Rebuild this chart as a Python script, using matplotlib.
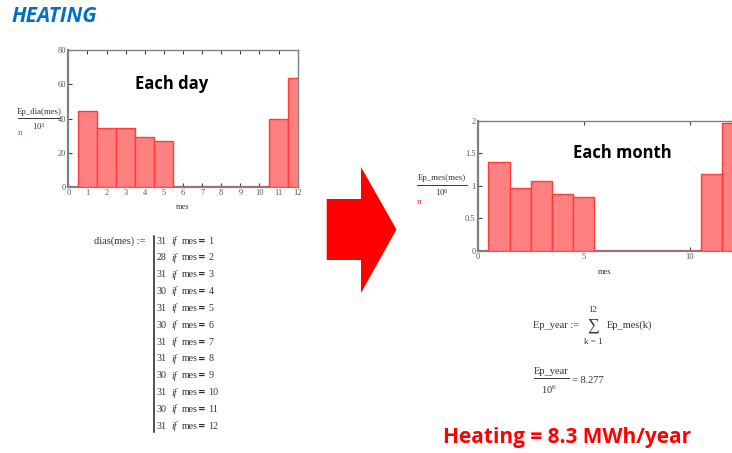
import matplotlib
matplotlib.use("Agg")
import matplotlib.pyplot as plt
from matplotlib.patches import Polygon
from matplotlib.lines import Line2D

plt.rcParams["mathtext.fontset"] = "custom"
plt.rcParams["mathtext.rm"] = "Liberation Serif"
plt.rcParams["mathtext.it"] = "Liberation Serif:italic"

# ---- data ----
months = list(range(1, 13))
days_in_month = [31, 28, 31, 30, 31, 30, 31, 31, 30, 31, 30, 31]
# daily heating energy per month, in 10^3 Wh
ep_dia_k = [44.3, 34.6, 34.6, 29.2, 26.9, 0, 0, 0, 0, 0, 39.5, 63.45]
day_yticks = [0, 20, 40, 60, 80]
month_yticks = [0, 0.5, 1, 1.5, 2]

# monthly energy in 10^6 Wh
ep_mes_M = [d * 1e3 * n / 1e6 for d, n in zip(ep_dia_k, days_in_month)]
ep_year_M = sum(ep_mes_M)

W, H = 732, 453
fig = plt.figure(figsize=(W / 100, H / 100), dpi=100)
fig.patch.set_facecolor("white")


def fx(x):
    return x / W


def fy(y):
    return 1 - y / H


SERIF = ["Liberation Serif", "DejaVu Serif"]
BAR_FACE = "#ff8080"
BAR_EDGE = "#ff3c3c"
SPINE = "#808080"
TICK_TXT = "#555555"


def draw_bars(ax, values, xticks, yticks, xlim, ylim):
    ax.bar(months, values, width=1.0, color=BAR_FACE,
           edgecolor=BAR_EDGE, linewidth=1.0, zorder=3)
    ax.set_xlim(*xlim)
    ax.set_ylim(*ylim)
    ax.set_xticks(xticks)
    ax.set_yticks(yticks)
    ax.set_xticklabels([f"{t:g}" for t in xticks])
    ax.set_yticklabels([f"{t:g}" for t in yticks])
    ax.tick_params(direction="in", length=3, width=0.8, color="#404040",
                   labelsize=6, labelcolor=TICK_TXT, pad=1.5,
                   top=True, right=False)
    for lbl in ax.get_xticklabels() + ax.get_yticklabels():
        lbl.set_family(SERIF)
    for side in ("left", "bottom"):
        ax.spines[side].set_linewidth(1.6)
        ax.spines[side].set_color(SPINE)
    for side in ("top", "right"):
        ax.spines[side].set_linewidth(1.0)
        ax.spines[side].set_color(SPINE)


# ---- daily chart ----
ax1 = fig.add_axes([fx(68.3), fy(187), fx(297.7 - 68.3), (187 - 50) / H])
draw_bars(ax1, ep_dia_k, list(range(0, 13)), day_yticks, (0, 12), (0, 80))
fig.text(fx(172), fy(84), "Each day", ha="center", va="center",
         fontsize=12, fontweight="bold", family="Open Sans", color="black")

# ---- monthly chart (extends past the right edge) ----
unit = (690 - 477.7) / 10
ax2 = fig.add_axes([fx(477.7), fy(251), fx(12 * unit), (251 - 120.7) / H])
draw_bars(ax2, ep_mes_M, [0, 5, 10], month_yticks, (0, 12), (0, 2))
fig.text(fx(622.5), fy(153), "Each month", ha="center", va="center",
         fontsize=12, fontweight="bold", family="Open Sans", color="black")


# ---- axis labels (fraction style) ----
def fraction_label(xc, y_num, y_line, y_den, num, den, x0, x1, size=6.3):
    fig.text(fx(xc), fy(y_num), num, ha="center", va="center",
             fontsize=size, family=SERIF, color="#333333")
    fig.add_artist(Line2D([fx(x0), fx(x1)], [fy(y_line), fy(y_line)],
                          transform=fig.transFigure, color="#333333", lw=0.7))
    fig.text(fx(xc), fy(y_den), den, ha="center", va="center",
             fontsize=size, family=SERIF, color="#333333")


fraction_label(39, 111.7, 117.5, 126, "Ep_dia(mes)", r"$10^{3}$", 18, 60)
fig.text(fx(20), fy(133), "n", ha="center", va="center", fontsize=6.5,
         family=SERIF, color="#ff3030")
fig.text(fx(183), fy(207), "mes", ha="center", va="center", fontsize=6,
         family=SERIF, color="#333333")

fraction_label(442, 178, 184.5, 193, "Ep_mes(mes)", r"$10^{6}$", 417, 467)
fig.text(fx(419), fy(202), "n", ha="center", va="center", fontsize=6.5,
         family=SERIF, color="#ff3030")
fig.text(fx(605), fy(272.5), "mes", ha="center", va="center", fontsize=6,
         family=SERIF, color="#333333")

# ---- title ----
fig.text(fx(11), fy(16), "HEATING", ha="left", va="center", fontsize=15,
         fontweight="bold", fontstyle="italic", family="Open Sans",
         color="#0070c0")

# ---- days-per-month definition ----
ROW_FS = 7.2
fig.text(fx(94), fy(241), "dias(mes) :=", ha="left", va="center",
         fontsize=7.5, family=SERIF, color="#333333")
row_y0, row_dy = 241, 16.85
fig.add_artist(Line2D([fx(153.5), fx(153.5)], [fy(236), fy(432)],
                      transform=fig.transFigure, color="#222222", lw=1.1))
for i, (m, d) in enumerate(zip(months, days_in_month)):
    y = row_y0 + i * row_dy
    fig.text(fx(156.5), fy(y), f"{d}", ha="left", va="center",
             fontsize=ROW_FS, family=SERIF, color="#333333")
    fig.text(fx(171.5), fy(y), "if", ha="left", va="center",
             fontsize=ROW_FS, family=SERIF, style="italic", color="#333333")
    fig.text(fx(181.5), fy(y), "mes", ha="left", va="center",
             fontsize=ROW_FS, family=SERIF, color="#333333")
    fig.text(fx(198), fy(y), "=", ha="left", va="center", fontsize=6.5,
             family="DejaVu Sans", fontweight="bold", color="#222222")
    fig.text(fx(208.5), fy(y), f"{m}", ha="left", va="center",
             fontsize=ROW_FS, family=SERIF, color="#333333")

# ---- arrow ----
arrow = Polygon([(fx(326.7), fy(199)), (fx(361), fy(199)), (fx(361), fy(167)),
                 (fx(396.5), fy(229.5)), (fx(361), fy(293)), (fx(361), fy(260)),
                 (fx(326.7), fy(260))], closed=True, transform=fig.transFigure,
                facecolor="#ff0000", edgecolor="none")
fig.add_artist(arrow)

# ---- yearly sum ----
fig.text(fx(533), fy(325), "Ep_year :=", ha="left", va="center",
         fontsize=7.5, family=SERIF, color="#333333")
fig.text(fx(593), fy(325.5), "\u2211", ha="center", va="center",
         fontsize=12, family=SERIF, color="#333333")
fig.text(fx(593), fy(310.5), "12", ha="center", va="center",
         fontsize=6.5, family=SERIF, color="#333333")
fig.text(fx(593), fy(342), "k = 1", ha="center", va="center",
         fontsize=6.5, family=SERIF, color="#333333")
fig.text(fx(607), fy(325), "Ep_mes(k)", ha="left", va="center",
         fontsize=7.5, family=SERIF, color="#333333")

fig.text(fx(551.5), fy(371.5), "Ep_year", ha="center", va="center",
         fontsize=7.5, family=SERIF, color="#333333")
fig.add_artist(Line2D([fx(534), fx(569)], [fy(378), fy(378)],
                      transform=fig.transFigure, color="#333333", lw=0.7))
fig.text(fx(549), fy(390), r"$10^{6}$", ha="center", va="center",
         fontsize=7.5, family=SERIF, color="#333333")
fig.text(fx(572), fy(380.5), f"= {ep_year_M:.3f}", ha="left", va="center",
         fontsize=7.5, family=SERIF, color="#333333")

fig.text(fx(443), fy(438), f"Heating = {ep_year_M:.1f} MWh/year", ha="left",
         va="center", fontsize=15, fontweight="bold", family="Open Sans",
         color="#ff0000")

fig.savefig("out.png", dpi=100, facecolor="white")
